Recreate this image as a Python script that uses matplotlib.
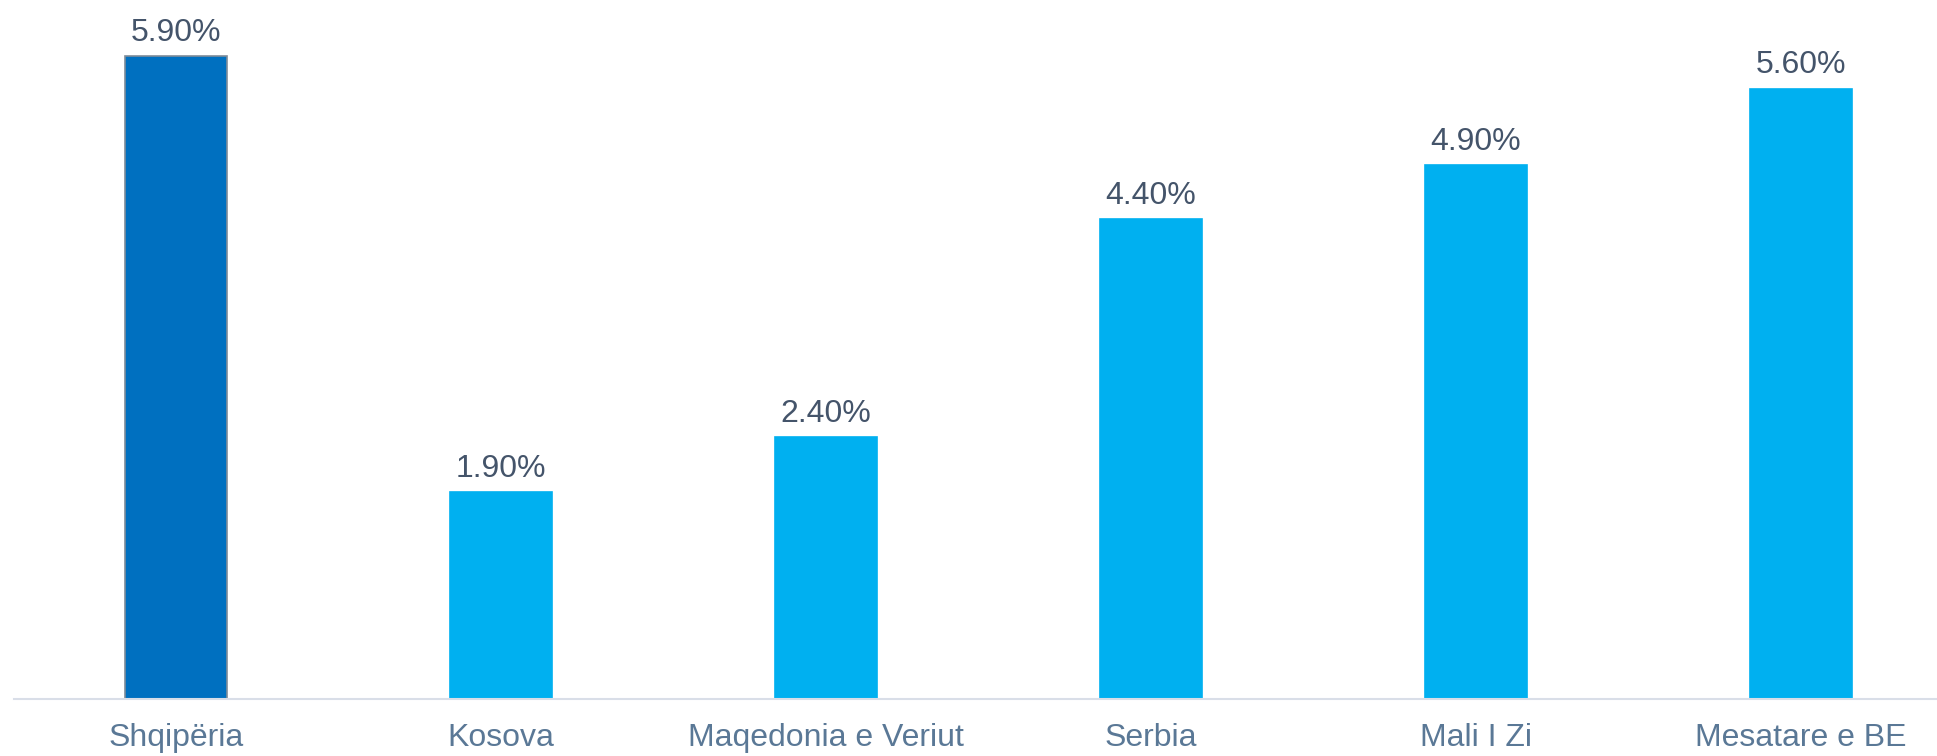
import matplotlib
matplotlib.use("Agg")
import matplotlib.pyplot as plt

countries = ['Shqipëria', 'Kosova', 'Maqedonia e Veriut', 'Serbia', 'Mali I Zi', 'Mesatare e BE']
values = [5.9, 1.9, 2.4, 4.4, 4.9, 5.6]
value_labels = ['5.90%', '1.90%', '2.40%', '4.40%', '4.90%', '5.60%']
colors = ['#0070C0', '#00B0F0', '#00B0F0', '#00B0F0', '#00B0F0', '#00B0F0']
edges = ['#7F8C99', '#00B0F0', '#00B0F0', '#00B0F0', '#00B0F0', '#00B0F0']

plt.rcParams['font.family'] = ['Liberation Sans', 'DejaVu Sans']

fig = plt.figure(figsize=(19.37, 7.56), dpi=100)
ax = fig.add_axes([14 / 1937, 57 / 756, 1 - 14 / 1937, 699 / 756])

x = list(range(len(countries)))
bars = ax.bar(x, values, width=0.314, color=colors, edgecolor=edges, linewidth=1.2)

for b, lbl in zip(bars, value_labels):
    ax.annotate(lbl, (b.get_x() + b.get_width() / 2, b.get_height()),
                xytext=(0, 6), textcoords='offset points',
                ha='center', va='bottom', fontsize=23, color='#44546A')

ax.set_xlim(-0.5, 5.42)
ax.set_ylim(0, 6.413)
ax.set_xticks(x)
ax.set_xticklabels(countries, fontsize=23, color='#5A7896')
ax.tick_params(axis='x', length=0, pad=17)
ax.set_yticks([])

for s in ['top', 'right', 'left']:
    ax.spines[s].set_visible(False)
ax.spines['bottom'].set_color('#D9DEE8')
ax.spines['bottom'].set_linewidth(1.5)

fig.savefig('out.png', dpi=100)
